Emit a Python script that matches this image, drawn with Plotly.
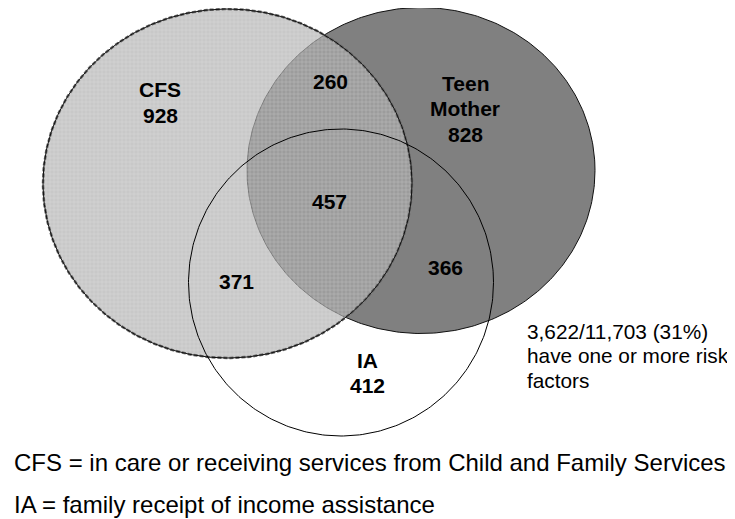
import numpy as np
import plotly.graph_objects as go

# ---------------- data ----------------
set_names = [["CFS"], ["Teen", "Mother"], ["IA"]]
set_only_counts = [928, 828, 412]
pair_names = ["CFS & Teen Mother", "Teen Mother & IA", "CFS & IA"]
pair_counts = [260, 366, 371]
triple_count = 457
risk_count = 3622
total_count = 11703
legend_lines = [
    "CFS = in care or receiving services from Child and Family Services",
    "IA = family receipt of income assistance",
]

# ---------------- geometry / styling (pixel space) ----------------
W, H = 735, 519
OFF = 8  # compensates the page's default body margin
ellipses = {  # cx, cy, rx, ry
    "CFS": (227.5, 183.5, 184.5, 174.5),
    "TM": (421.0, 170.5, 174.0, 163.0),
    "IA": (341.0, 282.5, 152.5, 153.5),
}
set_label_pos = [(160, 89.5), (465, 83), (367, 360)]
LINE_GAP = 25.5
pair_label_pos = [(330, 81), (445, 267), (236, 281)]
triple_label_pos = (329, 201)

FONT = "Arial, 'Liberation Sans', sans-serif"


def ellipse_xy(cx, cy, rx, ry, n=361):
    t = np.linspace(0, 2 * np.pi, n)
    return cx + rx * np.cos(t), cy + ry * np.sin(t)


fig = go.Figure()

# IA white background fill
x, y = ellipse_xy(*ellipses["IA"])
fig.add_trace(go.Scatter(x=x, y=y, mode="lines", fill="toself",
                         fillcolor="white", line=dict(width=0),
                         hoverinfo="skip", showlegend=False))
# Teen Mother
x, y = ellipse_xy(*ellipses["TM"])
fig.add_trace(go.Scatter(x=x, y=y, mode="lines", fill="toself",
                         fillcolor="#808080", line=dict(color="#111", width=1),
                         hoverinfo="skip", showlegend=False))
# CFS translucent textured
x, y = ellipse_xy(*ellipses["CFS"])
fig.add_trace(go.Scatter(x=x, y=y, mode="lines", fill="toself",
                         fillcolor="rgba(171,171,171,0.65)",
                         fillpattern=dict(shape="+", size=4, solidity=0.3,
                                          bgcolor="rgba(171,171,171,0.65)",
                                          fgcolor="rgba(240,240,240,0.3)",
                                          fgopacity=1),
                         line=dict(color="#666", width=2.5, dash="4px,2px"),
                         hoverinfo="skip", showlegend=False))
fig.add_trace(go.Scatter(x=x, y=y, mode="lines",
                         line=dict(color="#111", width=1),
                         hoverinfo="skip", showlegend=False))
# IA outline on top
x, y = ellipse_xy(*ellipses["IA"])
fig.add_trace(go.Scatter(x=x, y=y, mode="lines",
                         line=dict(color="#000", width=1),
                         hoverinfo="skip", showlegend=False))

annotations = []
bold = dict(family=FONT, size=21, color="black")


def add_text(px, py, text, font, xanchor="center"):
    annotations.append(dict(x=px, y=py, xref="x", yref="y", text=text,
                            showarrow=False, font=font,
                            xanchor=xanchor, yanchor="middle"))


for name_lines, cnt, (px, py) in zip(set_names, set_only_counts, set_label_pos):
    lines = name_lines + [str(cnt)]
    for i, ln in enumerate(lines):
        add_text(px, py + LINE_GAP * i, f"<b>{ln}</b>", bold)
for cnt, (px, py) in zip(pair_counts, pair_label_pos):
    add_text(px, py, f"<b>{cnt}</b>", bold)
add_text(triple_label_pos[0], triple_label_pos[1], f"<b>{triple_count}</b>", bold)

pct = round(100 * risk_count / total_count)
summary = [f"{risk_count:,}/{total_count:,} ({pct}%)",
           "have one or more risk", "factors"]
for i, line in enumerate(summary):
    add_text(525, 331 + 24.5 * i, line,
             dict(family=FONT, size=20.8, color="black"), xanchor="left")
for i, line in enumerate(legend_lines):
    add_text(12, 462.5 + 42 * i, line,
             dict(family=FONT, size=24, color="black"), xanchor="left")

fig.update_layout(
    width=W, height=H,
    margin=dict(l=0, r=0, t=0, b=0),
    paper_bgcolor="white", plot_bgcolor="white",
    xaxis=dict(range=[OFF, W + OFF], visible=False, fixedrange=True),
    yaxis=dict(range=[H + OFF, OFF], visible=False, fixedrange=True),
    annotations=annotations,
    showlegend=False,
)

fig.write_html("out.html")
